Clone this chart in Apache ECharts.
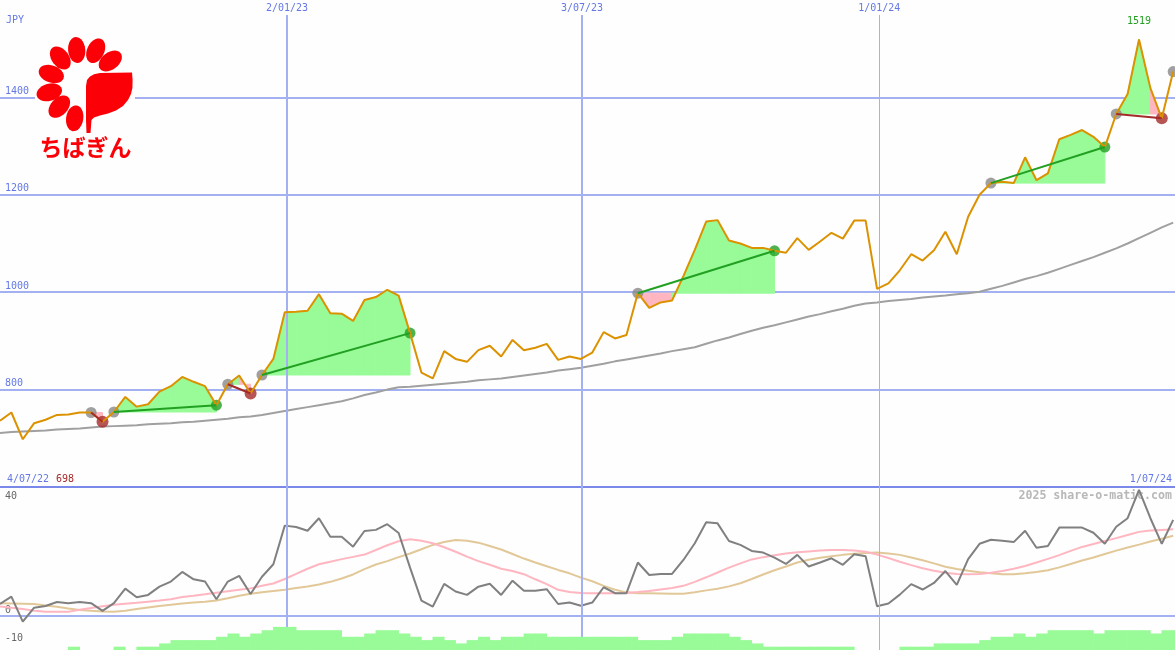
<!DOCTYPE html>
<html><head><meta charset="utf-8">
<script src="https://cdn.jsdelivr.net/npm/echarts@6/dist/echarts.min.js"></script>
<style>html,body{margin:0;padding:0;background:#fdfefd}#c{width:1175px;height:650px}</style>
</head><body><div id="c"></div>
<script>
// ---- data (weekly points, index 0 = 4/07/22) ----
const price = [736,753,698,731,738,748,749,753,753,734,
754,785,765,770,796,807,826,816,807,768,
811,829,792,830,863,959,960,962,996,957,
956,941,984,990,1005,993,916,835,823,879,
863,857,881,890,868,902,881,886,894,861,
868,863,876,918,905,912,998,968,979,983,
1033,1087,1145,1148,1106,1100,1091,1091,1085,1081,
1111,1087,1104,1122,1110,1147,1147,1007,1018,1045,
1078,1065,1086,1124,1078,1155,1200,1224,1227,1224,
1277,1230,1244,1314,1323,1333,1319,1298,1366,1407,
1519,1419,1357,1453];
const priceAvg = [711,713,714,715,716,718,719,720,722,724,
725,726,727,729,730,731,733,734,736,738,
740,743,745,748,752,756,760,764,768,772,
776,782,789,794,800,805,806,808,810,812,
814,816,819,821,823,826,829,832,835,839,
842,845,849,853,858,862,866,870,874,879,
883,887,894,901,907,914,921,927,932,938,
944,950,955,961,966,972,977,979,982,984,
986,989,991,993,996,998,1001,1007,1013,1020,
1027,1033,1040,1048,1056,1064,1072,1081,1090,1100,
1111,1122,1133,1143];
const momentum = [4.2,6.8,-2.0,2.9,3.5,4.9,4.5,4.9,4.5,1.8,
4.5,9.6,6.6,7.4,10.3,12.1,15.5,12.9,12.1,5.9,
12.1,14.1,7.7,13.8,18.2,31.8,31.3,30.0,34.4,27.9,
27.9,24.4,29.9,30.3,32.3,29.2,17.0,5.4,3.3,11.3,
8.6,7.4,10.3,11.3,7.4,12.4,8.9,8.9,9.4,4.2,
4.7,3.6,4.7,10.1,8.0,8.0,18.8,14.4,14.8,14.8,
19.7,25.6,33.0,32.6,26.4,25.0,22.9,22.3,20.5,18.3,
21.5,17.4,18.8,20.3,18.0,21.7,21.0,3.4,4.4,7.5,
11.2,9.3,11.6,15.8,10.9,20.0,25.4,26.8,26.5,26.0,
30.0,24.0,24.6,31.1,31.1,31.1,29.3,25.4,31.4,34.4,
44.4,34.4,25.4,33.8];
const momFast = [3.3,2.9,2.4,1.8,1.5,1.5,1.5,2.2,2.8,3.4,
3.9,4.3,4.6,5.0,5.4,5.9,6.7,7.1,7.6,8.2,
8.7,9.2,9.7,10.6,11.4,13.0,14.8,16.6,18.2,19.1,
20.0,20.8,21.6,23.2,24.9,26.3,27.0,26.5,25.6,24.2,
22.6,20.9,19.3,18.0,16.6,15.8,14.7,12.9,11.2,9.2,
8.4,8.1,8.0,8.0,8.0,8.1,8.4,8.8,9.3,9.8,
10.6,12.0,13.6,15.3,17.0,18.5,19.9,20.7,21.4,22.0,
22.4,22.7,23.0,23.2,23.2,23.0,22.6,21.6,20.4,19.1,
17.9,16.8,15.9,15.2,14.8,14.7,14.8,15.2,15.8,16.6,
17.6,18.8,20.1,21.4,22.9,24.3,25.3,26.4,27.4,28.5,
29.6,30.1,30.3,30.5];
const momSlow = [4.5,4.4,4.3,4.2,3.7,3.2,2.6,2.1,1.8,1.6,
1.5,1.8,2.4,3.0,3.5,3.9,4.4,4.7,5.0,5.4,
6.2,7.1,7.8,8.3,8.8,9.2,9.8,10.4,11.1,12.0,
13.2,14.6,16.5,18.1,19.3,20.7,22.0,23.5,25.0,26.0,
26.7,26.5,25.8,24.6,23.4,21.8,20.2,18.8,17.5,16.2,
15.0,13.5,12.2,10.6,9.2,8.3,8.0,8.0,7.9,7.8,
7.8,8.3,9.0,9.6,10.4,11.5,13.0,14.6,16.1,17.4,
18.8,19.8,20.5,21.0,21.5,21.9,22.2,22.3,22.0,21.5,
20.6,19.6,18.5,17.3,16.5,15.9,15.4,15.0,14.7,14.7,
15.0,15.5,16.1,17.1,18.3,19.5,20.6,21.8,23.0,24.1,
25.1,26.2,27.2,28.2];
const barLevel = [0,0,0,0,0,0,1,0,0,0,
1,0,1,1,2,3,3,3,3,4,
5,4,5,6,7,7,6,6,6,6,
4,4,5,6,6,5,4,3,4,3,
2,3,4,3,4,4,5,5,4,4,
4,4,4,4,4,4,3,3,3,4,
5,5,5,5,4,3,2,1,1,1,
1,1,1,1,1,0,0,0,0,1,
1,1,2,2,2,2,3,4,4,5,
4,5,6,6,6,6,5,6,6,6,
6,5,6,6];
// trades: [entry index, exit index]
const trades = [[8,9],[10,19],[20,22],[23,36],[56,68],[87,97],[98,102]];
const openEntries = [103];
// date grid lines: [position in weeks, label, line width]
const dateMarks = [[25.2,'2/01/23',2],[51.1,'3/07/23',2],[77.2,'1/01/24',1]];
const startLabel = '4/07/22', endLabel = '1/07/24';
const currency = 'JPY';

// ---- colours ----
const BLUE_TXT = '#6478e6', GRID = '#a3b1f2', GRID_DARK = '#7a88ea';
const ORANGE = '#dc9200', GREEN = '#22a022', RED = '#a52a2a';
const XMAX = 103.16, MAIN_TOP_VAL = 1569.2, LOW_TOP = 45.4, LOW_BOT = -12;

const pairs = arr => arr.map((v, i) => [i, v]);
const mono = 'DejaVu Sans Mono';

const fillData = [];
trades.forEach(([a, b]) => {
  const lvl = price[a];
  for (let i = a; i < b; i++) fillData.push([i, i + 1, price[i], price[i + 1], lvl]);
});
const entries = trades.map(t => t[0]).concat(openEntries);
const wins = trades.filter(t => price[t[1]] >= price[t[0]]).map(t => t[1]);
const losses = trades.filter(t => price[t[1]] < price[t[0]]).map(t => t[1]);

const tradeLines = trades.map(([a, b]) => ({
  type: 'line', xAxisIndex: 0, yAxisIndex: 0, z: 7, symbol: 'none', silent: true,
  data: [[a, price[a]], [b, price[b]]],
  lineStyle: { color: price[b] >= price[a] ? GREEN : RED, width: 2 }
}));

// ---- logo geometry ----
const petalCenters = [[76.7,50],[95.7,50.7],[110.3,61],[60.3,58],[51.3,74],[49.3,92.3],[59.3,106.7],[74.7,118.3]];
function ellipsePts(cx, cy, ang, a, b) {
  const pts = [];
  for (let k = 0; k < 28; k++) {
    const t = k / 28 * Math.PI * 2, x = a * Math.cos(t), y = b * Math.sin(t);
    pts.push([cx + x * Math.cos(ang) - y * Math.sin(ang), cy + x * Math.sin(ang) + y * Math.cos(ang)]);
  }
  return pts;
}
const LOGO_RED = '#fb0007';
const logoEls = [{ type: 'rect', shape: { x: 35, y: 30, width: 100, height: 134 }, style: { fill: '#fdfefd' }, z: 100 }];
petalCenters.forEach(([cx, cy]) => {
  const ang = Math.atan2(cy - 84, cx - 80);
  logoEls.push({ type: 'polygon', shape: { points: ellipsePts(cx, cy, ang, 13, 8.6) }, style: { fill: LOGO_RED }, z: 101 });
});
logoEls.push({ type: 'polygon', z: 101, style: { fill: LOGO_RED }, shape: { points: [
  [86,86],[87,80],[90,76.5],[94,74.2],[100,73],[132,72.5],[132.6,80],[132.4,88],[131,94],[128,100],[123,106],[116,110.5],[108,113.5],[100,115.5],[94,117.5],[91.5,120],[90.5,133],[86.5,133],[86,120]
] } });
logoEls.push({ type: 'text', z: 101, style: { text: 'ちばぎん', x: 85.5, y: 147.5, align: 'center', verticalAlign: 'middle', textAlign: 'center', textVerticalAlign: 'middle', font: 'bold 23px "Noto Sans CJK JP"', fill: LOGO_RED } });

const txt = (text, x, y, color, align, font) => ({ type: 'text', z: 1, style: { text, x, y, fill: color, align, textAlign: align, verticalAlign: 'middle', textVerticalAlign: 'middle', font: font || ('10px "' + mono + '"') } });

const chart = echarts.init(document.getElementById('c'));
chart.setOption({
  backgroundColor: '#fdfefd',
  animation: false,
  grid: [
    { left: 0, right: 0, top: 0, height: 487 },
    { left: 0, right: 0, top: 487, height: 163 },
    { left: 0, right: 0, top: 617, height: 33 }
  ],
  xAxis: [
    { gridIndex: 0, type: 'value', min: 0, max: XMAX, axisLine: { show: true, onZero: false, lineStyle: { color: GRID_DARK, width: 2 } }, axisTick: { show: false }, axisLabel: { show: false }, splitLine: { show: false } },
    { gridIndex: 1, type: 'value', min: 0, max: XMAX, axisLine: { show: true, onZero: true, lineStyle: { color: GRID, width: 2 } }, axisTick: { show: false }, axisLabel: { show: false }, splitLine: { show: false } },
    { gridIndex: 2, type: 'value', min: 0, max: XMAX, show: false }
  ],
  yAxis: [
    { gridIndex: 0, type: 'value', min: 600, max: 1600, interval: 200, axisLine: { show: false }, axisTick: { show: false },
      splitLine: { show: true, showMinLine: false, showMaxLine: false, lineStyle: { color: GRID, width: 2 } },
      axisLabel: { inside: true, margin: 5, color: BLUE_TXT, fontFamily: mono, fontSize: 10, verticalAlign: 'bottom', padding: [0,0,1,0],
        formatter: v => (v === 600 || v === 1600) ? '' : String(v) } },
    { gridIndex: 1, type: 'value', min: LOW_BOT, max: LOW_TOP, splitNumber: 6, axisLine: { show: false }, axisTick: { show: false }, splitLine: { show: false },
      axisLabel: { inside: true, margin: 5, color: '#666666', fontFamily: mono, fontSize: 10, verticalAlign: 'bottom', padding: [0,0,1,0],
        formatter: v => (v === 40 || v === 0) ? String(v) : (v === -10 ? '{lo|-10}' : ''),
        rich: { lo: { fontFamily: mono, fontSize: 10, color: '#666666', padding: [6,0,0,0] } } } },
    { gridIndex: 2, type: 'value', min: 0, max: 10, show: false }
  ],
  series: [
    { type: 'line', name: 'avg', xAxisIndex: 0, yAxisIndex: 0, z: 2, symbol: 'none', silent: true,
      data: pairs(priceAvg), lineStyle: { color: '#a0a0a0', width: 2 },
      markLine: { silent: true, symbol: 'none', label: { show: false },
        data: dateMarks.map(([x, , w]) => [{ coord: [x, MAIN_TOP_VAL], lineStyle: { color: GRID, width: w, type: 'solid' } }, { coord: [x, 600] }]) },
      markPoint: { silent: true, symbol: 'circle', symbolSize: 1, itemStyle: { color: 'rgba(0,0,0,0)' },
        label: { show: true, position: 'top', distance: 1, color: BLUE_TXT, fontFamily: mono, fontSize: 10 },
        data: dateMarks.map(([x, l]) => ({ coord: [x, MAIN_TOP_VAL], value: l, label: { formatter: l } })) } },
    { type: 'custom', name: 'fill', xAxisIndex: 0, yAxisIndex: 0, z: 3, silent: true, clip: true,
      encode: { x: [0, 1], y: [2, 3, 4] }, data: fillData,
      renderItem: (params, api) => {
        const x0 = api.value(0), x1 = api.value(1), y0 = api.value(2), y1 = api.value(3), l = api.value(4);
        const c = y1 >= l ? '#98fb98' : '#ffb6c1';
        return { type: 'polygon', shape: { points: [api.coord([x0, l]), api.coord([x0, y0]), api.coord([x1, y1]), api.coord([x1, l])] },
          style: { fill: c, stroke: c, lineWidth: 1 } };
      } },
    { type: 'scatter', name: 'entry', xAxisIndex: 0, yAxisIndex: 0, z: 4, silent: true, symbolSize: 11,
      itemStyle: { color: '#888888' }, data: entries.map(i => [i, price[i]]) },
    { type: 'scatter', name: 'win', xAxisIndex: 0, yAxisIndex: 0, z: 4, silent: true, symbolSize: 11,
      itemStyle: { color: GREEN }, data: wins.map(i => [i, price[i]]) },
    { type: 'scatter', name: 'loss', xAxisIndex: 0, yAxisIndex: 0, z: 4, silent: true, symbolSize: 12,
      itemStyle: { color: RED }, data: losses.map(i => [i, price[i]]) },
    { type: 'line', name: 'price', xAxisIndex: 0, yAxisIndex: 0, z: 5, symbol: 'none', silent: true,
      data: pairs(price), lineStyle: { color: ORANGE, width: 2 },
      markPoint: { silent: true, symbol: 'circle', symbolSize: 1, itemStyle: { color: 'rgba(0,0,0,0)' },
        label: { show: true, position: 'top', distance: 13, color: GREEN, fontFamily: mono, fontSize: 10, formatter: p => String(p.value) },
        data: [{ type: 'max' }] } },
    ...tradeLines,
    { type: 'line', name: 'slow', xAxisIndex: 1, yAxisIndex: 1, z: 2, symbol: 'none', silent: true,
      data: pairs(momSlow), lineStyle: { color: '#e2c898', width: 2 },
      markLine: { silent: true, symbol: 'none', label: { show: false },
        data: dateMarks.map(([x, , w]) => [{ coord: [x, LOW_TOP], lineStyle: { color: GRID, width: w, type: 'solid' } }, { coord: [x, LOW_BOT] }]) } },
    { type: 'line', name: 'fast', xAxisIndex: 1, yAxisIndex: 1, z: 2, symbol: 'none', silent: true,
      data: pairs(momFast), lineStyle: { color: '#ffb6c1', width: 2 } },
    { type: 'line', name: 'mom', xAxisIndex: 1, yAxisIndex: 1, z: 3, symbol: 'none', silent: true,
      data: pairs(momentum), lineStyle: { color: '#808080', width: 2 } },
    { type: 'bar', name: 'bars', xAxisIndex: 2, yAxisIndex: 2, z: 6, silent: true, barWidth: 12,
      itemStyle: { color: '#98fb98' }, data: barLevel.map((v, i) => [i + 0.5, v]) }
  ],
  graphic: [
    txt(currency, 6, 20, BLUE_TXT, 'left'),
    txt(startLabel, 7, 479, BLUE_TXT, 'left'),
    txt(String(Math.min(...price)), 56, 479, RED, 'left'),
    txt(endLabel, 1172, 479, BLUE_TXT, 'right'),
    txt('2025 share-o-matic.com', 1172, 496, '#b8b8b8', 'right', 'bold 11.6px "' + mono + '"'),
    ...logoEls
  ]
});
</script></body></html>
